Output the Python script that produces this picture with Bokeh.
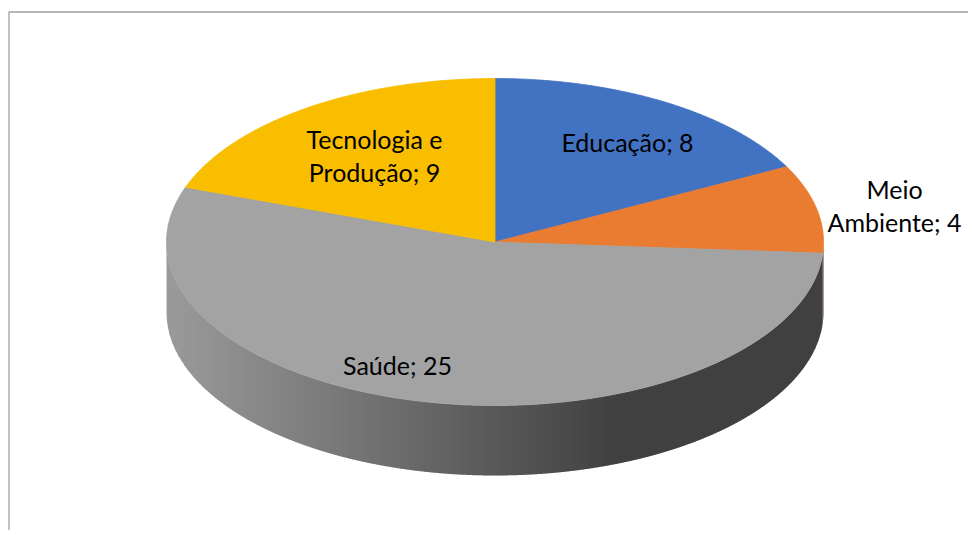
import numpy as np
from bokeh.plotting import figure
from bokeh.models import Range1d
from bokeh.core.properties import value
from bokeh.embed import file_html
from bokeh.resources import INLINE

# ---------------- data ----------------
categories = ["Educação", "Meio Ambiente", "Saúde", "Tecnologia e Produção"]
values = [8, 4, 25, 9]
label_lines = [["Educação; 8"], ["Meio", "Ambiente; 4"], ["Saúde; 25"], ["Tecnologia e", "Produção; 9"]]
top_colors = ["#4272C2", "#EA7C32", "#A3A3A3", "#FABE00"]

# ---------------- layout ----------------
W, H = 968, 530
CX, CY, RX, RY, DEPTH = 494.5, 241.5, 328.5, 163.5, 70.0
label_anchor = [(627, 141), (894, 204.5), (397, 364), (374, 154.5)]
LINE_SPACING = 33
FONT = "Lato"
FONT_SIZE = "25px"
BAND = 3.0  # width of the shading bands on the side wall

p = figure(width=W, height=H, output_backend="svg", toolbar_location=None,
           x_range=Range1d(0, W), y_range=Range1d(H, 0),
           min_border=0, x_axis_type=None, y_axis_type=None)
p.grid.visible = False
p.outline_line_color = None
p.background_fill_color = "white"
p.border_fill_color = "white"


def pt(theta_deg, dy=0.0):
    t = np.radians(theta_deg)
    return CX + RX * np.sin(t), CY - RY * np.cos(t) + dy


def hex_to_rgb(h):
    h = h.lstrip("#")
    return tuple(int(h[i:i + 2], 16) for i in (0, 2, 4))


def shade(base_hex, x):
    # horizontal lighting of the side wall: light on the left, dark on the right
    v = np.clip(155 - 0.2 * (x - 165), 64, 155)
    f = v / 163.0
    r, g, b = hex_to_rgb(base_hex)
    return "#%02x%02x%02x" % (int(min(255, r * f)), int(min(255, g * f)), int(min(255, b * f)))


def theta_of_x(x):
    # front half of the rim: theta in [90, 270] (clockwise from top)
    return 180.0 - np.degrees(np.arcsin(np.clip((x - CX) / RX, -1, 1)))


total = float(sum(values))
bounds = np.concatenate([[0.0], np.cumsum(values)]) / total * 360.0

# side walls, drawn as narrow vertical shading bands
qx, qy, qc = [], [], []
for i in range(len(values)):
    a, b = bounds[i], bounds[i + 1]
    s, e = max(a, 90.0), min(b, 270.0)
    if e <= s:
        continue
    x_right, _ = pt(s)
    x_left, _ = pt(e)
    edges = list(np.arange(x_left, x_right, BAND)) + [x_right]
    for k in range(len(edges) - 1):
        x0 = edges[k]
        x1 = min(edges[k + 1] + 0.7, x_right)
        t0, t1 = theta_of_x(x0), theta_of_x(x1)
        th = np.linspace(t0, t1, 12)
        xs, ys = pt(th)
        xb, yb = pt(th[::-1], DEPTH)
        qx.append(list(xs) + list(xb))
        qy.append(list(ys) + list(yb))
        qc.append(shade(top_colors[i], (edges[k] + edges[k + 1]) / 2))

p.patches(xs=qx, ys=qy, fill_color=qc, line_color=None)

# top faces
wx, wy = [], []
for i in range(len(values)):
    a, b = bounds[i], bounds[i + 1]
    th = np.linspace(a, b, max(3, int((b - a) * 2)))
    xs, ys = pt(th)
    wx.append([CX] + list(xs))
    wy.append([CY] + list(ys))
p.patches(xs=wx, ys=wy, fill_color=top_colors, line_color=top_colors, line_width=0.8)

# chart frame (top and left edge visible)
p.line(x=[8.5, 8.5, W + 10], y=[H + 10, 11.5, 11.5], line_color="#a0a0a0", line_width=1.3)

# data labels
tx, ty, tt = [], [], []
for (ax, ay), lines in zip(label_anchor, label_lines):
    n = len(lines)
    for j, ln in enumerate(lines):
        tx.append(ax)
        ty.append(ay + (j - (n - 1) / 2) * LINE_SPACING)
        tt.append(ln)
p.text(x=tx, y=ty, text=tt, text_font=value(FONT), text_font_size=FONT_SIZE,
       text_align="center", text_baseline="middle", text_color="#000000")

open("out.html", "w").write(file_html(p, INLINE))
